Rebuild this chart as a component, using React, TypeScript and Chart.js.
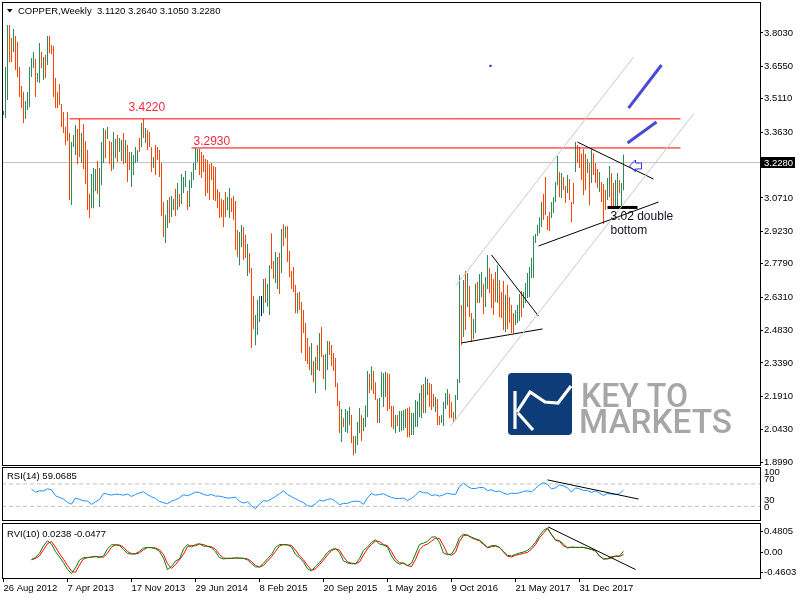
import React, { useEffect, useRef } from 'react';
import { Chart, registerables } from 'chart.js';
Chart.register(...registerables);

const FONT = "'Liberation Sans', Arial, sans-serif";

// ---------- price data (weekly bars, index 0 = 26 Aug 2012) ----------
const highs = [
  3.457, 3.652, 3.838, 3.838, 3.781, 3.821, 3.790, 3.763, 3.652, 3.568,
  3.541, 3.501, 3.541, 3.652, 3.692, 3.719, 3.688, 3.626, 3.759, 3.719,
  3.697, 3.705, 3.790, 3.790, 3.750, 3.745, 3.603, 3.541, 3.577, 3.488,
  3.452, 3.386, 3.452, 3.359, 3.319, 3.350, 3.395, 3.377, 3.421, 3.359,
  3.399, 3.324, 3.284, 3.089, 3.177, 3.204, 3.200, 3.235, 3.204, 3.319,
  3.381, 3.373, 3.386, 3.324, 3.319, 3.364, 3.333, 3.350, 3.337, 3.328,
  3.359, 3.328, 3.306, 3.275, 3.275, 3.262, 3.297, 3.284, 3.337, 3.404,
  3.421, 3.381, 3.373, 3.364, 3.297, 3.253, 3.306, 3.297, 3.284, 3.226,
  3.053, 2.995, 3.062, 3.075, 3.080, 3.066, 3.111, 3.137, 3.089, 3.177,
  3.164, 3.191, 3.102, 3.151, 3.186, 3.226, 3.293, 3.288, 3.288, 3.275,
  3.262, 3.244, 3.240, 3.222, 3.226, 3.213, 3.209, 3.111, 3.098, 3.066,
  3.062, 3.098, 3.075, 3.115, 3.071, 3.080, 3.058, 2.929, 2.920, 2.951,
  2.942, 2.907, 2.867, 2.827, 2.760, 2.636, 2.552, 2.618, 2.636, 2.636,
  2.712, 2.716, 2.690, 2.773, 2.915, 2.791, 2.831, 2.809, 2.827, 2.933,
  2.955, 2.946, 2.946, 2.836, 2.747, 2.765, 2.685, 2.649, 2.654, 2.609,
  2.574, 2.516, 2.450, 2.410, 2.428, 2.348, 2.365, 2.419, 2.472, 2.499,
  2.374, 2.379, 2.437, 2.437, 2.419, 2.383, 2.361, 2.250, 2.170, 2.135,
  2.095, 2.135, 2.126, 2.144, 2.108, 2.015, 2.015, 2.077, 2.139, 2.108,
  2.095, 2.152, 2.303, 2.290, 2.325, 2.303, 2.254, 2.179, 2.184, 2.299,
  2.294, 2.299, 2.294, 2.290, 2.148, 2.148, 2.108, 2.108, 2.126, 2.126,
  2.130, 2.135, 2.139, 2.144, 2.117, 2.117, 2.175, 2.170, 2.206, 2.241,
  2.246, 2.277, 2.268, 2.250, 2.246, 2.201, 2.188, 2.179, 2.104, 2.108,
  2.166, 2.206, 2.224, 2.201, 2.166, 2.122, 2.197, 2.268, 2.729, 2.596,
  2.707, 2.747, 2.738, 2.680, 2.561, 2.534, 2.690, 2.698, 2.734, 2.743,
  2.690, 2.721, 2.818, 2.760, 2.734, 2.711, 2.743, 2.773, 2.707, 2.654,
  2.703, 2.641, 2.685, 2.632, 2.596, 2.561, 2.574, 2.596, 2.645, 2.658,
  2.654, 2.694, 2.738, 2.765, 2.805, 2.902, 2.911, 2.951, 2.986, 3.053,
  3.089, 3.164, 2.991, 3.009, 3.053, 3.075, 3.142, 3.257, 3.186, 3.182,
  3.164, 3.124, 3.173, 3.155, 3.053, 3.137, 3.319, 3.306, 3.297, 3.270,
  3.288, 3.266, 3.244, 3.226, 3.288, 3.270, 3.226, 3.200, 3.186, 3.142,
  3.133, 3.106, 3.160, 3.213, 3.182, 3.137, 3.151, 3.182, 3.151, 3.137,
  3.264,
];
const lows = [
  3.439, 3.426, 3.506, 3.674, 3.674, 3.719, 3.639, 3.608, 3.519, 3.470,
  3.404, 3.421, 3.461, 3.474, 3.608, 3.648, 3.519, 3.586, 3.581, 3.648,
  3.594, 3.603, 3.661, 3.714, 3.710, 3.519, 3.470, 3.470, 3.483, 3.386,
  3.359, 3.306, 3.324, 3.062, 3.040, 3.297, 3.262, 3.222, 3.253, 3.226,
  3.200, 3.133, 3.018, 2.982, 3.026, 3.026, 3.102, 3.089, 3.031, 3.129,
  3.226, 3.248, 3.333, 3.222, 3.191, 3.200, 3.248, 3.231, 3.275, 3.235,
  3.222, 3.226, 3.142, 3.195, 3.120, 3.173, 3.226, 3.231, 3.275, 3.297,
  3.337, 3.315, 3.284, 3.297, 3.186, 3.204, 3.173, 3.240, 3.164, 2.991,
  2.898, 2.871, 2.938, 2.960, 2.987, 3.018, 2.991, 3.018, 3.031, 3.044,
  3.093, 3.120, 3.018, 3.031, 3.115, 3.151, 3.195, 3.231, 3.173, 3.160,
  3.186, 3.080, 3.093, 3.062, 3.151, 3.062, 3.058, 3.026, 2.982, 2.987,
  2.942, 2.987, 3.018, 2.982, 3.009, 2.973, 2.840, 2.809, 2.773, 2.853,
  2.796, 2.805, 2.725, 2.738, 2.405, 2.490, 2.418, 2.463, 2.521, 2.547,
  2.560, 2.605, 2.588, 2.552, 2.756, 2.712, 2.694, 2.667, 2.645, 2.738,
  2.858, 2.893, 2.787, 2.720, 2.667, 2.654, 2.560, 2.560, 2.574, 2.383,
  2.472, 2.348, 2.334, 2.308, 2.285, 2.255, 2.206, 2.308, 2.303, 2.365,
  2.268, 2.219, 2.308, 2.374, 2.326, 2.303, 2.232, 2.148, 2.028, 1.988,
  2.055, 2.033, 2.028, 2.064, 1.984, 1.930, 1.939, 1.975, 2.028, 1.993,
  2.037, 2.055, 2.099, 2.206, 2.219, 2.201, 2.175, 2.073, 2.073, 2.188,
  2.144, 2.188, 2.126, 2.135, 2.055, 2.046, 2.028, 2.059, 2.033, 2.037,
  2.042, 2.050, 2.010, 2.010, 2.019, 2.019, 2.055, 2.055, 2.099, 2.095,
  2.117, 2.117, 2.197, 2.144, 2.130, 2.144, 2.122, 2.064, 2.064, 2.073,
  2.059, 2.135, 2.152, 2.095, 2.095, 2.077, 2.090, 2.175, 2.250, 2.419,
  2.454, 2.485, 2.587, 2.543, 2.432, 2.445, 2.472, 2.605, 2.605, 2.632,
  2.556, 2.587, 2.667, 2.649, 2.583, 2.552, 2.610, 2.605, 2.543, 2.539,
  2.485, 2.476, 2.490, 2.516, 2.472, 2.472, 2.508, 2.516, 2.525, 2.543,
  2.583, 2.605, 2.627, 2.632, 2.716, 2.716, 2.871, 2.902, 2.915, 2.942,
  2.973, 2.995, 2.929, 2.924, 2.982, 3.004, 3.053, 3.129, 3.075, 3.071,
  3.106, 3.049, 3.093, 3.062, 2.964, 3.044, 3.186, 3.226, 3.204, 3.151,
  3.084, 3.106, 3.182, 3.040, 3.137, 3.173, 3.137, 3.115, 3.098, 3.053,
  2.955, 3.018, 3.062, 3.075, 3.026, 3.026, 3.026, 3.031, 3.093, 3.026,
  3.105,
];
// u = up bar, d = down bar, n = unchanged
const barDirs = [
  'uuuddudddd', 'duuuuuduud', 'ududdddddd', 'dddduuuddu', 'dddduuuduu',
  'ududduuduu', 'dudduuuudu', 'dudddudddd', 'duuduududu', 'uuduuuuudd',
  'dddddddddd', 'dduudddduu', 'dduddduuun', 'uduudduudu', 'dudddddudd',
  'ddddududud', 'duuddddddu', 'duuudduuud', 'uuududdduu', 'uudddduduu',
  'uudduuuuuu', 'duuddduddu', 'uuuddduuud', 'ududduuduu', 'duuddddudd',
  'dudddduuud', 'uuuuuuuuuu', 'dddduuuudu', 'dduddduddd', 'ddududddud',
  'dduudduuduu',
].join('');
const lastBarOHLC = [3.112, 3.264, 3.105, 3.228];
const lastPrice = 3.228;

const priceTicks = [3.803, 3.655, 3.511, 3.363, 3.215, 3.071, 2.923, 2.779, 2.631, 2.483, 2.339, 2.191, 2.043, 1.899];
const dateTickIdx = [0, 32, 64, 96, 128, 160, 192, 224, 256, 288];
const dateLabels = ['26 Aug 2012', '7 Apr 2013', '17 Nov 2013', '29 Jun 2014', '8 Feb 2015', '20 Sep 2015', '1 May 2016', '9 Oct 2016', '21 May 2017', '31 Dec 2017'];

// ---------- indicators (one value every 2nd bar, from bar 14) ----------
const indStart = 14;
const indStep = 2;
const rsi = [
  60.6, 55.3, 57.6, 57.6, 61.2, 59.4, 48.8, 45.9, 43.0, 37.1,
  34.0, 44.7, 42.4, 40.0, 39.4, 33.5, 38.2, 42.4, 52.9, 51.8,
  50.0, 51.8, 51.2, 50.0, 51.8, 47.7, 51.2, 54.1, 55.9, 50.6,
  47.1, 44.1, 38.8, 36.5, 34.7, 39.4, 41.8, 45.3, 50.6, 48.8,
  51.8, 55.3, 54.7, 51.2, 49.4, 51.2, 48.2, 48.2, 46.5, 44.7,
  45.3, 46.5, 38.8, 35.9, 38.2, 31.2, 25.9, 34.1, 40.0, 39.4,
  43.5, 47.7, 52.4, 57.6, 51.2, 47.1, 43.5, 40.0, 36.5, 31.2,
  30.0, 34.7, 41.2, 39.4, 42.4, 43.5, 38.8, 33.0, 35.3, 35.3,
  38.2, 39.4, 38.8, 33.5, 45.3, 52.9, 50.0, 51.2, 52.4, 48.8,
  45.9, 44.1, 44.1,
  44.7, 40.6, 44.1, 50.0, 57.1, 54.1, 54.1, 49.4, 50.6, 48.2,
  50.6, 53.5, 51.8, 51.2, 65.3, 71.2, 65.3, 61.8, 61.8, 63.5,
  63.5, 58.2, 59.4, 56.5, 57.1, 53.5, 51.2, 53.5, 52.9, 54.1,
  56.5, 57.6, 55.9, 61.8, 68.2, 72.4, 68.8, 61.2, 62.9, 68.2,
  66.5, 62.9, 55.3, 62.9, 61.2, 58.2, 58.2, 54.7, 57.6, 53.5,
  49.4, 52.9, 51.8, 51.2, 52.4, 59.0685,
];
const rviMain = [
  -0.167, -0.114, -0.023, 0.152, 0.266, 0.190, 0.015, -0.106, -0.236, -0.395,
  -0.486, -0.357, -0.175, -0.122, -0.122, -0.106, -0.091, -0.122, -0.084, 0.084,
  0.175, 0.175, 0.152, 0.068, -0.030, -0.038, -0.030, 0.023, 0.099, 0.114,
  0.106, 0.084, 0.023, -0.137, -0.395, -0.327, -0.198, -0.152, 0.076, 0.182,
  0.122, 0.182, 0.198, 0.144, 0.137, 0.106, 0.015, -0.122, -0.152, -0.137,
  -0.137, -0.129, -0.137, -0.137, -0.175, -0.258, -0.334, -0.334, -0.251, -0.144,
  -0.053, 0.114, 0.182, 0.175, 0.175, 0.122, -0.046, -0.122, -0.220, -0.380,
  -0.426, -0.319, -0.236, -0.122, 0.000, 0.068, 0.084, -0.008, -0.198, -0.243,
  -0.258, -0.266, -0.144, 0.046, 0.122, 0.228, 0.289, 0.190, 0.167, 0.122,
  -0.084, -0.213, -0.274,
  -0.243, -0.304, -0.251, -0.038, 0.182, 0.213, 0.251, 0.350, 0.357, 0.228,
  -0.015, -0.053, -0.038, 0.114, 0.342, 0.418, 0.395, 0.350, 0.312, 0.281,
  0.205, 0.114, 0.152, 0.160, 0.114, 0.023, -0.068, -0.084, -0.046, -0.015,
  0.008, 0.046, 0.122, 0.228, 0.388, 0.502, 0.562, 0.410, 0.289, 0.266,
  0.190, 0.099, 0.122, 0.114, 0.114, 0.114, 0.091, 0.068, 0.038, -0.091,
  -0.152, -0.152, -0.129, -0.084, -0.084, 0.0238,
];
const rviSignal = [
  -0.17, -0.14, -0.08, 0.06, 0.20, 0.25, 0.12, -0.03, -0.16, -0.30,
  -0.43, -0.46, -0.29, -0.15, -0.12, -0.11, -0.10, -0.10, -0.11, -0.02,
  0.12, 0.17, 0.17, 0.12, 0.02, -0.03, -0.04, -0.01, 0.06, 0.11,
  0.11, 0.10, 0.06, -0.05, -0.26, -0.37, -0.28, -0.17, -0.04, 0.13,
  0.16, 0.15, 0.19, 0.18, 0.14, 0.13, 0.07, -0.05, -0.13, -0.14,
  -0.14, -0.13, -0.13, -0.14, -0.15, -0.21, -0.30, -0.34, -0.30, -0.20,
  -0.10, 0.02, 0.15, 0.18, 0.17, 0.16, 0.05, -0.08, -0.17, -0.30,
  -0.41, -0.38, -0.28, -0.18, -0.06, 0.04, 0.08, 0.05, -0.10, -0.22,
  -0.25, -0.26, -0.22, -0.06, 0.08, 0.18, 0.26, 0.25, 0.18, 0.15,
  0.02, -0.15, -0.24,
  -0.25, -0.304, -0.327, -0.167, 0.061, 0.152, 0.190, 0.258, 0.327, 0.319,
  0.152, -0.038, -0.068, 0.000, 0.251, 0.388, 0.395, 0.334, 0.296, 0.266,
  0.182, 0.106, 0.129, 0.144, 0.114, 0.008, -0.091, -0.106, -0.068, -0.046,
  -0.023, 0.000, 0.076, 0.175, 0.334, 0.441, 0.547, 0.410, 0.281, 0.251,
  0.144, 0.114, 0.114, 0.114, 0.114, 0.114, 0.091, 0.068, 0.030, -0.076,
  -0.152, -0.144, -0.099, -0.091, -0.099, -0.0477,
];
const rsiLevels = [70, 30];
const rviTicks = [0.4805, 0, -0.4603];

// ---------- drawn objects (bar index, price) ----------
const resistanceLines = [
  { price: 3.422, from: 33, to: 338.5 },
  { price: 3.293, from: 94, to: 338.5 },
];
const channelLines = [
  [[226, 2.680], [315, 3.696]],
  [[223.5, 2.059], [345, 3.444]],
];
const patternLines = [
  [[244, 2.818], [267.5, 2.547]],
  [[229, 2.428], [269.5, 2.490]],
  [[267.5, 2.858], [327.5, 3.053]],
  [[287, 3.319], [325, 3.155]],
];
const doubleBottomMark = [[302, 3.029], [317, 3.029]];
const blueLines = [
  [[312.5, 3.470], [329, 3.661]],
  [[312, 3.315], [326.5, 3.408]],
];
const blueDot = [243.5, 3.657];
const arrowTip = [313, 3.213];
const textNotes = [
  { text: '3.4220', at: [62.5, 3.457], color: '#f0283c' },
  { text: '3.2930', at: [95, 3.306], color: '#f0283c' },
  { text: '3.02 double', at: [303.5, 2.973], color: '#101020' },
  { text: 'bottom', at: [303.5, 2.911], color: '#101020' },
];
const rsiTrend = [[272, 77.1], [317.5, 43.0]];
const rviTrend = [[272.3, 0.585], [316, -0.395]];

// ---------- view ----------
const X_MIN = -0.75;
const X_MAX = 378.25;
const P_MIN = 1.8864;
const P_MAX = 3.9405;
const UP = '#2e8b57';
const DOWN = '#ff4500';
const DOJI = '#000080';

const pts = (a: number[][]) => a.map(([x, y]) => ({ x, y }));
const seg = (a: number[][], color: string, width = 1, extra: any = {}) => ({
  type: 'line', data: pts(a), borderColor: color, borderWidth: width, pointRadius: 0,
  fill: false, tension: 0, order: 1, ...extra,
});
const series = (vals: number[]) => vals.map((v, k) => ({ x: indStart + k * indStep, y: v }));
const noPad = (s: any) => { s.paddingTop = 0; s.paddingBottom = 0; s.paddingLeft = 0; s.paddingRight = 0; };

function fitText(ctx: CanvasRenderingContext2D, text: string, x: number, y: number, w: number) {
  const m = ctx.measureText(text).width;
  ctx.save();
  ctx.translate(x, y);
  ctx.scale(w / m, 1);
  ctx.fillText(text, 0, 0);
  ctx.restore();
}

function drawLogo(ctx: CanvasRenderingContext2D) {
  ctx.save();
  ctx.fillStyle = '#0e3c78';
  ctx.beginPath();
  (ctx as any).roundRect(508, 373, 64, 62, 4);
  ctx.fill();
  ctx.strokeStyle = '#ffffff';
  ctx.lineWidth = 3.2;
  ctx.lineJoin = 'miter';
  ctx.beginPath();
  ctx.moveTo(515, 391); ctx.lineTo(515, 429);
  ctx.stroke();
  ctx.beginPath();
  ctx.moveTo(517, 412); ctx.lineTo(530, 392); ctx.lineTo(545, 402); ctx.lineTo(558, 403); ctx.lineTo(571, 386);
  ctx.stroke();
  ctx.beginPath();
  ctx.moveTo(518, 413); ctx.lineTo(533, 430);
  ctx.stroke();
  ctx.fillStyle = '#a6a6a6';
  ctx.font = `500 33px Roboto, ${FONT}`;
  ctx.textBaseline = 'alphabetic';
  ctx.textAlign = 'left';
  fitText(ctx, 'KEY TO', 581, 407, 107);
  fitText(ctx, 'MARKETS', 579, 433, 153);
  ctx.restore();
}

const pricePlugin = {
  id: 'priceDecor',
  beforeDatasetsDraw(chart: any) {
    drawLogo(chart.ctx);
  },
  afterDraw(chart: any) {
    const { ctx, chartArea: a, scales } = chart;
    const xs = scales.x, ys = scales.y;
    ctx.save();
    ctx.strokeStyle = '#000';
    ctx.lineWidth = 1;
    ctx.strokeRect(a.left + 0.5, a.top + 0.5, a.right - a.left, a.bottom - a.top);
    // title
    ctx.fillStyle = '#000';
    ctx.beginPath();
    ctx.moveTo(7, 9); ctx.lineTo(12.5, 9); ctx.lineTo(9.75, 12.5); ctx.closePath();
    ctx.fill();
    ctx.font = `9.5px ${FONT}`;
    ctx.textBaseline = 'alphabetic';
    ctx.textAlign = 'left';
    ctx.fillText('COPPER,Weekly', 18, 14);
    ctx.fillText(lastBarOHLC.map((v) => v.toFixed(4)).join(' '), 97, 14);
    // notes
    ctx.font = `12px ${FONT}`;
    for (const n of textNotes) {
      ctx.fillStyle = n.color;
      ctx.fillText(n.text, xs.getPixelForValue(n.at[0]), ys.getPixelForValue(n.at[1]));
    }
    // hollow arrow
    const ax = xs.getPixelForValue(arrowTip[0]);
    const ay = ys.getPixelForValue(arrowTip[1]);
    ctx.strokeStyle = '#3030ff';
    ctx.lineWidth = 1;
    ctx.beginPath();
    ctx.moveTo(ax, ay); ctx.lineTo(ax + 6, ay - 6); ctx.lineTo(ax + 6, ay - 3); ctx.lineTo(ax + 12, ay - 3);
    ctx.lineTo(ax + 12, ay + 3); ctx.lineTo(ax + 6, ay + 3); ctx.lineTo(ax + 6, ay + 6); ctx.closePath();
    ctx.stroke();
    // current price box
    const py = Math.round(ys.getPixelForValue(lastPrice));
    ctx.fillStyle = '#000';
    ctx.fillRect(a.right + 1, py - 6, 34, 11);
    ctx.fillStyle = '#fff';
    ctx.font = `9.5px ${FONT}`;
    ctx.textBaseline = 'middle';
    ctx.fillText(lastPrice.toFixed(4), a.right + 4, py);
    ctx.restore();
  },
};

const rsiPlugin = {
  id: 'rsiDecor',
  afterDraw(chart: any) {
    const { ctx, chartArea: a } = chart;
    ctx.save();
    ctx.strokeStyle = '#000';
    ctx.lineWidth = 1;
    ctx.strokeRect(a.left + 0.5, a.top + 0.5, a.right - a.left, a.bottom - a.top - 1);
    ctx.fillStyle = '#000';
    ctx.font = `9.5px ${FONT}`;
    ctx.textBaseline = 'alphabetic';
    ctx.textAlign = 'left';
    ctx.fillText('RSI(14) ' + rsi[rsi.length - 1].toFixed(4), 7, a.top + 12);
    const lab = [['100', 8], ['70', 15], ['30', 36], ['0', 43]];
    for (const [t, dy] of lab) ctx.fillText(t as string, a.right + 4, a.top + (dy as number));
    ctx.restore();
  },
};

const rviPlugin = {
  id: 'rviDecor',
  afterDraw(chart: any) {
    const { ctx, chartArea: a } = chart;
    ctx.save();
    ctx.strokeStyle = '#000';
    ctx.lineWidth = 1;
    ctx.strokeRect(a.left + 0.5, a.top + 0.5, a.right - a.left, a.bottom - a.top);
    ctx.fillStyle = '#000';
    ctx.font = `9.5px ${FONT}`;
    ctx.textBaseline = 'alphabetic';
    ctx.textAlign = 'left';
    ctx.fillText('RVI(10) ' + rviMain[rviMain.length - 1].toFixed(4) + ' ' + rviSignal[rviSignal.length - 1].toFixed(4), 7, a.top + 14);
    ctx.restore();
  },
};

const baseOpts = (padding: any) => ({
  animation: false,
  responsive: false,
  maintainAspectRatio: false,
  devicePixelRatio: 1,
  events: [],
  layout: { padding, autoPadding: false },
  plugins: { legend: { display: false }, tooltip: { enabled: false } },
});

const hiddenX = { type: 'linear', min: X_MIN, max: X_MAX, offset: false, display: false, grid: { offset: false }, afterFit: noPad };

function makePrice(canvas: HTMLCanvasElement) {
  const colors = highs.map((_, i) => (barDirs[i] === 'u' ? UP : barDirs[i] === 'n' ? DOJI : DOWN));
  const datasets: any[] = [
    seg([[X_MIN, lastPrice], [X_MAX, lastPrice]], '#c0c0c0', 1, { order: 10 }),
    {
      type: 'bar', data: highs.map((h, i) => ({ x: i, y: [lows[i], h] })),
      backgroundColor: colors, barThickness: 1, borderWidth: 0, inflateAmount: 0, order: 5,
    },
    ...resistanceLines.map((r) => seg([[r.from, r.price], [r.to, r.price]], '#ff0000', 1, { order: 4 })),
    ...channelLines.map((l) => seg(l, '#c8c8c8', 1)),
    ...patternLines.map((l) => seg(l, '#000000', 1)),
    seg(doubleBottomMark, '#000000', 3, { borderCapStyle: 'butt' }),
    ...blueLines.map((l) => seg(l, '#4a4ad4', 3)),
    { type: 'line', data: pts([blueDot]), showLine: false, pointRadius: 1.6, pointStyle: 'rect', pointBackgroundColor: '#3c3cc8', pointBorderWidth: 0, order: 1 },
  ];
  return new Chart(canvas, {
    type: 'bar',
    data: { datasets },
    options: {
      ...baseOpts({ left: 2, top: 2, right: 0, bottom: 1 }),
      scales: {
        x: hiddenX,
        y: {
          type: 'linear', position: 'right', min: P_MIN, max: P_MAX, beginAtZero: false,
          afterFit: (s: any) => { s.width = 40; noPad(s); },
          afterBuildTicks: (s: any) => { s.ticks = priceTicks.map((v) => ({ value: v })); },
          ticks: { callback: (v: any) => Number(v).toFixed(4), font: { family: FONT, size: 9.5 }, color: '#000', padding: 1, autoSkip: false },
          grid: { drawOnChartArea: false, drawTicks: true, tickLength: 3, tickColor: '#000' },
          border: { display: false },
        },
      },
    } as any,
    plugins: [pricePlugin],
  } as any);
}

function makeRsi(canvas: HTMLCanvasElement) {
  const datasets: any[] = [
    ...rsiLevels.map((v) => seg([[X_MIN, v], [X_MAX, v]], '#c0c0c0', 1, { borderDash: [4, 3], order: 5 })),
    { type: 'line', data: series(rsi), borderColor: '#1e90ff', borderWidth: 1, pointRadius: 0, tension: 0, order: 2 },
    seg(rsiTrend, '#000000', 1),
  ];
  return new Chart(canvas, {
    type: 'line',
    data: { datasets },
    options: {
      ...baseOpts({ left: 2, top: 1, right: 0, bottom: 1 }),
      scales: {
        x: hiddenX,
        y: {
          type: 'linear', position: 'right', min: 4, max: 100,
          afterFit: (s: any) => { s.width = 40; noPad(s); },
          ticks: { display: false },
          grid: { display: false },
          border: { display: false },
        },
      },
    } as any,
    plugins: [rsiPlugin],
  } as any);
}

function makeRvi(canvas: HTMLCanvasElement) {
  const datasets: any[] = [
    { type: 'line', data: series(rviSignal), borderColor: '#ff0000', borderWidth: 1, pointRadius: 0, tension: 0, order: 3 },
    { type: 'line', data: series(rviMain), borderColor: '#008000', borderWidth: 1, pointRadius: 0, tension: 0, order: 2 },
    seg(rviTrend, '#000000', 1),
  ];
  return new Chart(canvas, {
    type: 'line',
    data: { datasets },
    options: {
      ...baseOpts({ left: 2, top: 1, right: 0, bottom: 0 }),
      scales: {
        x: {
          type: 'linear', min: X_MIN, max: X_MAX, offset: false,
          afterFit: (s: any) => { s.height = 22; noPad(s); },
          afterBuildTicks: (s: any) => { s.ticks = dateTickIdx.map((v) => ({ value: v })); },
          ticks: {
            callback: (v: any) => dateLabels[dateTickIdx.indexOf(Number(v))] ?? '',
            align: 'start', autoSkip: false, maxRotation: 0, minRotation: 0, padding: 1,
            font: { family: FONT, size: 9.5 }, color: '#000',
          },
          grid: { drawOnChartArea: false, drawTicks: true, tickLength: 4, tickColor: '#000', offset: false },
          border: { display: false },
        },
        y: {
          type: 'linear', position: 'right', min: -0.59, max: 0.675,
          afterFit: (s: any) => { s.width = 40; noPad(s); },
          afterBuildTicks: (s: any) => { s.ticks = rviTicks.map((v) => ({ value: v })); },
          ticks: { callback: (v: any) => (Number(v) === 0 ? '0.00' : Number(v).toFixed(4)), font: { family: FONT, size: 9.5 }, color: '#000', padding: 1, autoSkip: false },
          grid: { drawOnChartArea: false, drawTicks: true, tickLength: 3, tickColor: '#000' },
          border: { display: false },
        },
      },
    } as any,
    plugins: [rviPlugin],
  } as any);
}

export default function App() {
  const c1 = useRef<HTMLCanvasElement>(null);
  const c2 = useRef<HTMLCanvasElement>(null);
  const c3 = useRef<HTMLCanvasElement>(null);
  useEffect(() => {
    const charts = [makePrice(c1.current!), makeRsi(c2.current!), makeRvi(c3.current!)];
    return () => charts.forEach((c) => c.destroy());
  }, []);
  const cs = (top: number, h: number): React.CSSProperties => ({ position: 'absolute', left: 0, top, width: 800, height: h, display: 'block' });
  return (
    <div style={{ position: 'absolute', left: 0, top: 0, width: 800, height: 600, background: '#ffffff', overflow: 'hidden' }}>
      <canvas ref={c1} width={800} height={466} style={cs(0, 466)} />
      <canvas ref={c2} width={800} height={56} style={cs(466, 56)} />
      <canvas ref={c3} width={800} height={78} style={cs(522, 78)} />
    </div>
  );
}
